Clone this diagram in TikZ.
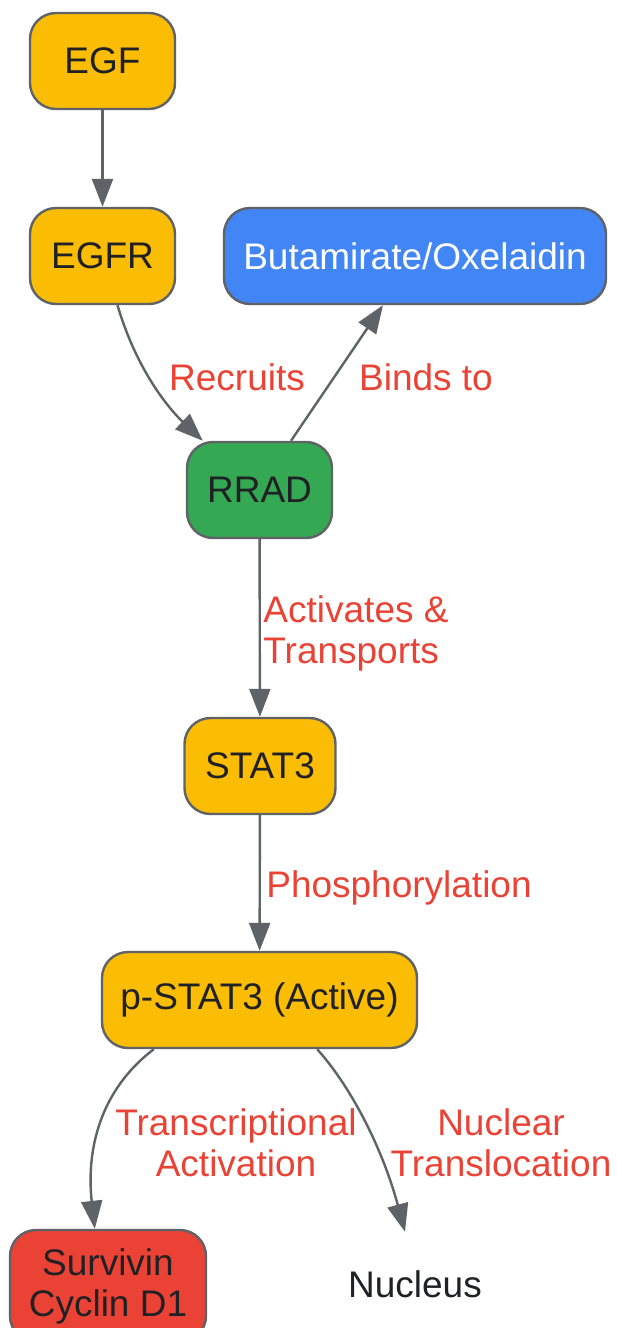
\documentclass[tikz,border=0pt]{standalone}
\usepackage{fontspec}
\setmainfont{Liberation Sans}
\usetikzlibrary{arrows.meta}
\definecolor{gyellow}{HTML}{FBBC04}
\definecolor{gblue}{HTML}{4285F4}
\definecolor{ggreen}{HTML}{34A853}
\definecolor{gred}{HTML}{EA4335}
\definecolor{gborder}{HTML}{5F6368}
\definecolor{gtext}{HTML}{202124}
\begin{document}
\begin{tikzpicture}[x=1pt,y=-1pt,
  box/.style={draw=gborder, line width=2.4pt, rounded corners=26pt, inner sep=0pt,
    font=\fontsize{37}{41}\selectfont, text=gtext, align=center},
  lbl/.style={text=gred, font=\fontsize{37}{41}\selectfont, align=center, inner sep=0pt},
  conn/.style={draw=gborder, line width=2.4pt, -{Triangle[length=28pt,width=21pt]}}]
\useasboundingbox (0,0) rectangle (616,1328);
\clip (0,0) rectangle (616,1328);
\node[box, fill=gyellow, minimum width=145, minimum height=96] (egf) at (102.5,61) {EGF};
\node[box, fill=gyellow, minimum width=145, minimum height=96] (egfr) at (102.5,256) {EGFR};
\node[box, fill=gblue, text=white, minimum width=382, minimum height=96] (drug) at (415,256) {Butamirate/Oxelaidin};
\node[box, fill=ggreen, minimum width=145, minimum height=96] (rrad) at (259.5,490) {RRAD};
\node[box, fill=gyellow, minimum width=151, minimum height=96] (stat3) at (260,766) {STAT3};
\node[box, fill=gyellow, minimum width=315, minimum height=96] (pstat3) at (259.5,1000) {p-STAT3 (Active)};
\node[box, fill=gred, minimum width=196, minimum height=112] (surv) at (108,1286) {Survivin\\Cyclin D1};
\node[text=gtext, font=\fontsize{37}{41}\selectfont, inner sep=0pt, minimum height=104] (nuc) at (415,1284) {Nucleus};

\draw[conn] (egf) -- (egfr);
\draw[conn] ([xshift=15]egfr.south) .. controls (135,365) and (165,405) .. ([xshift=17]rrad.north west);
\draw[conn] ([xshift=31.5]rrad.north) -- ([xshift=-32]drug.south);
\draw[conn] (rrad) -- (stat3);
\draw[conn] (stat3) -- (pstat3);
\draw[conn] ([xshift=53]pstat3.south west) .. controls (100,1090) and (86,1150) .. ([xshift=86]surv.north west);
\draw[conn] ([xshift=-101]pstat3.south east) .. controls (352,1088) and (383,1150) .. (nuc.north -| 405,0);

\node[lbl] (l1) at (237,377) {Recruits};
\node[lbl] (l2) at (426,377) {Binds to};
\node[lbl, align=left] (l3) at (356,633) {Activates \&\\Transports};
\node[lbl] (l4) at (399,888) {Phosphorylation};
\node[lbl] (l5) at (236,1143) {Transcriptional\\Activation};
\node[lbl] (l6) at (501,1143) {Nuclear\\Translocation};
\end{tikzpicture}
\end{document}
